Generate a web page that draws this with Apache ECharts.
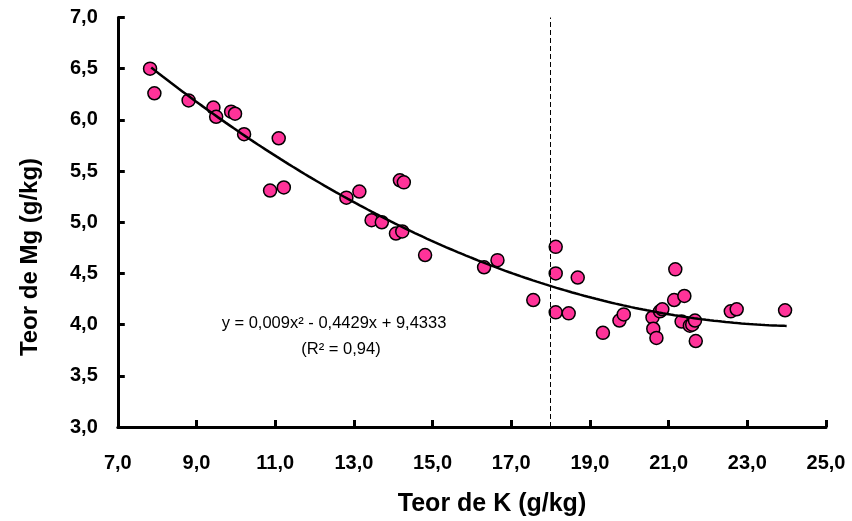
<!DOCTYPE html>
<html><head><meta charset="utf-8">
<script src="https://cdn.jsdelivr.net/npm/echarts@6/dist/echarts.min.js"></script>
<style>html,body{margin:0;padding:0;background:#fff}#c{width:852px;height:521px}</style>
</head><body><div id="c"></div>
<script>
// K content (g/kg)
const kValues = [7.82, 7.93, 8.80, 9.43, 9.50, 9.88, 9.98, 10.21, 11.09, 10.87, 11.22,
  12.81, 13.14, 14.17, 14.27, 13.45, 13.71, 14.07, 14.23, 14.81, 16.31, 16.65,
  17.56, 18.13, 18.13, 18.69, 18.13, 18.46, 19.33, 19.75, 19.86, 20.59, 20.61, 20.69,
  20.78, 20.84, 21.14, 21.17, 21.40, 21.33, 21.54, 21.60, 21.67, 21.69, 22.58, 22.73, 23.96];
// Mg content (g/kg)
const mgValues = [6.50, 6.26, 6.19, 6.12, 6.03, 6.08, 6.06, 5.86, 5.82, 5.31, 5.34,
  5.24, 5.30, 5.41, 5.39, 5.02, 5.00, 4.89, 4.91, 4.68, 4.56, 4.63,
  4.24, 4.76, 4.50, 4.46, 4.12, 4.11, 3.92, 4.04, 4.10, 4.07, 3.96, 3.87,
  4.13, 4.15, 4.24, 4.54, 4.28, 4.03, 3.99, 4.00, 4.04, 3.84, 4.13, 4.15, 4.14];
const xTicks = [7, 9, 11, 13, 15, 17, 19, 21, 23, 25];
const yTicks = [3, 3.5, 4, 4.5, 5, 5.5, 6, 6.5, 7];
// Trend: y = a x^2 + b x + c (as printed on the chart)
const trendCoef = [0.009, -0.4429, 9.4333];
const trendRange = [7.85, 24.0];
const refLineX = 18;
const eqText = 'y = 0,009x² - 0,4429x + 9,4333';
const r2Text = '(R² = 0,94)';
const xTitle = 'Teor de K (g/kg)';
const yTitle = 'Teor de Mg (g/kg)';

const pts = kValues.map((k, i) => [k, mgValues[i]]);
const trend = [];
for (let x = trendRange[0]; x <= trendRange[1] + 1e-9; x += 0.05) {
  trend.push([x, trendCoef[0] * x * x + trendCoef[1] * x + trendCoef[2]]);
}
const fmt = v => v.toFixed(1).replace('.', ',');
const FONT = 'Liberation Sans';
const lineAxis = { show: true, onZero: false, lineStyle: { color: '#000', width: 3 } };
const tickAxis = { show: true, inside: true, length: 7, lineStyle: { color: '#000', width: 3 } };
const chart = echarts.init(document.getElementById('c'), null, { renderer: 'canvas' });
chart.setOption({
  animation: false,
  backgroundColor: '#fff',
  grid: { left: 117.8, right: 26, top: 17.5, bottom: 94 },
  xAxis: {
    type: 'value', min: xTicks[0], max: xTicks[xTicks.length - 1], interval: 2,
    axisLine: lineAxis, axisTick: tickAxis, splitLine: { show: false },
    axisLabel: { color: '#000', fontFamily: FONT, fontWeight: 'bold', fontSize: 20, formatter: fmt,
      margin: 8, padding: [18, 0, 0, 0] }
  },
  yAxis: {
    type: 'value', min: yTicks[0], max: yTicks[yTicks.length - 1], interval: 0.5,
    axisLine: lineAxis, axisTick: tickAxis, splitLine: { show: false },
    axisLabel: { color: '#000', fontFamily: FONT, fontWeight: 'bold', fontSize: 20, formatter: fmt, margin: 20 }
  },
  series: [
    {
      type: 'scatter', data: pts, symbolSize: 13, z: 2,
      itemStyle: { color: '#FF3399', borderColor: '#000', borderWidth: 1.5, opacity: 1 },
      markLine: {
        silent: true, symbol: 'none', label: { show: false },
        lineStyle: { color: '#000', width: 1, type: [5, 3] },
        data: [{ xAxis: refLineX }]
      }
    },
    {
      type: 'line', data: trend, showSymbol: false, symbol: 'none', z: 3,
      lineStyle: { color: '#000', width: 2.5 }
    }
  ],
  graphic: [
    { type: 'text', position: [334, 323], style: { text: eqText, font: '16.5px "' + FONT + '"', fill: '#000', textAlign: 'center', textVerticalAlign: 'middle' } },
    { type: 'text', position: [341, 349], style: { text: r2Text, font: '16.5px "' + FONT + '"', fill: '#000', textAlign: 'center', textVerticalAlign: 'middle' } },
    { type: 'text', position: [492, 504], style: { text: xTitle, font: 'bold 25px "' + FONT + '"', fill: '#000', textAlign: 'center', textVerticalAlign: 'middle' } },
    { type: 'text', position: [30, 257], rotation: Math.PI / 2, style: { text: yTitle, font: 'bold 24px "' + FONT + '"', fill: '#000', textAlign: 'center', textVerticalAlign: 'middle' } }
  ]
});
</script>
</body></html>
